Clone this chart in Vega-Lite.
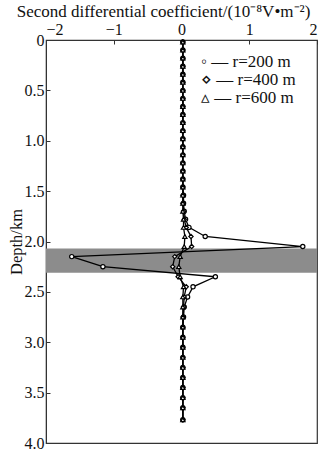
{
  "$schema": "https://vega.github.io/schema/vega-lite/v6.json",
  "width": 271,
  "height": 403,
  "autosize": "none",
  "padding": {"left": 46, "top": 40, "right": 11, "bottom": 8},
  "background": "white",
  "config": {
    "view": {"stroke": "#333", "strokeWidth": 1.2},
    "font": "Liberation Serif",
    "axis": {"labelFont": "Liberation Serif", "titleFont": "Liberation Serif", "labelColor": "#111", "titleColor": "#111", "domainColor": "#333", "tickColor": "#333", "grid": false, "titleFontWeight": "normal"},
    "legend": {"labelFont": "Liberation Serif"}
  },
  "datasets": {
    "band": [{"x0": -2, "x1": 2, "top": 2.07, "bottom": 2.31}],
    "profile": [
      {"d": 0.02, "r=200 m": 0.02, "r=400 m": 0.02, "r=600 m": 0.02},
      {"d": 0.10, "r=200 m": 0.02, "r=400 m": 0.02, "r=600 m": 0.02},
      {"d": 0.18, "r=200 m": 0.02, "r=400 m": 0.02, "r=600 m": 0.02},
      {"d": 0.26, "r=200 m": 0.02, "r=400 m": 0.02, "r=600 m": 0.02},
      {"d": 0.34, "r=200 m": 0.02, "r=400 m": 0.02, "r=600 m": 0.02},
      {"d": 0.42, "r=200 m": 0.02, "r=400 m": 0.02, "r=600 m": 0.02},
      {"d": 0.50, "r=200 m": 0.02, "r=400 m": 0.02, "r=600 m": 0.02},
      {"d": 0.58, "r=200 m": 0.02, "r=400 m": 0.02, "r=600 m": 0.02},
      {"d": 0.66, "r=200 m": 0.02, "r=400 m": 0.02, "r=600 m": 0.02},
      {"d": 0.74, "r=200 m": 0.02, "r=400 m": 0.02, "r=600 m": 0.02},
      {"d": 0.82, "r=200 m": 0.02, "r=400 m": 0.02, "r=600 m": 0.02},
      {"d": 0.90, "r=200 m": 0.02, "r=400 m": 0.02, "r=600 m": 0.02},
      {"d": 0.98, "r=200 m": 0.02, "r=400 m": 0.02, "r=600 m": 0.02},
      {"d": 1.06, "r=200 m": 0.02, "r=400 m": 0.02, "r=600 m": 0.02},
      {"d": 1.14, "r=200 m": 0.02, "r=400 m": 0.02, "r=600 m": 0.02},
      {"d": 1.22, "r=200 m": 0.02, "r=400 m": 0.02, "r=600 m": 0.02},
      {"d": 1.30, "r=200 m": 0.02, "r=400 m": 0.02, "r=600 m": 0.02},
      {"d": 1.38, "r=200 m": 0.02, "r=400 m": 0.02, "r=600 m": 0.02},
      {"d": 1.46, "r=200 m": 0.02, "r=400 m": 0.02, "r=600 m": 0.02},
      {"d": 1.54, "r=200 m": 0.03, "r=400 m": 0.02, "r=600 m": 0.02},
      {"d": 1.62, "r=200 m": 0.03, "r=400 m": 0.02, "r=600 m": 0.02},
      {"d": 1.70, "r=200 m": 0.04, "r=400 m": 0.03, "r=600 m": 0.02},
      {"d": 1.78, "r=200 m": 0.06, "r=400 m": 0.04, "r=600 m": 0.03},
      {"d": 1.86, "r=200 m": 0.11, "r=400 m": 0.07, "r=600 m": 0.03},
      {"d": 1.95, "r=200 m": 0.35, "r=400 m": 0.14, "r=600 m": 0.05},
      {"d": 2.05, "r=200 m": 1.79, "r=400 m": 0.15, "r=600 m": 0.04},
      {"d": 2.15, "r=200 m": -1.62, "r=400 m": -0.1, "r=600 m": -0.02},
      {"d": 2.25, "r=200 m": -1.16, "r=400 m": -0.13, "r=600 m": -0.04},
      {"d": 2.35, "r=200 m": 0.5, "r=400 m": -0.05, "r=600 m": -0.02},
      {"d": 2.45, "r=200 m": 0.17, "r=400 m": 0.07, "r=600 m": 0.03},
      {"d": 2.55, "r=200 m": 0.09, "r=400 m": 0.04, "r=600 m": 0.02},
      {"d": 2.65, "r=200 m": 0.04, "r=400 m": 0.03, "r=600 m": 0.02},
      {"d": 2.75, "r=200 m": 0.03, "r=400 m": 0.02, "r=600 m": 0.02},
      {"d": 2.85, "r=200 m": 0.02, "r=400 m": 0.02, "r=600 m": 0.02},
      {"d": 2.95, "r=200 m": 0.02, "r=400 m": 0.02, "r=600 m": 0.02},
      {"d": 3.05, "r=200 m": 0.02, "r=400 m": 0.02, "r=600 m": 0.02},
      {"d": 3.15, "r=200 m": 0.02, "r=400 m": 0.02, "r=600 m": 0.02},
      {"d": 3.25, "r=200 m": 0.02, "r=400 m": 0.02, "r=600 m": 0.02},
      {"d": 3.35, "r=200 m": 0.02, "r=400 m": 0.02, "r=600 m": 0.02},
      {"d": 3.45, "r=200 m": 0.02, "r=400 m": 0.02, "r=600 m": 0.02},
      {"d": 3.55, "r=200 m": 0.02, "r=400 m": 0.02, "r=600 m": 0.02},
      {"d": 3.65, "r=200 m": 0.02, "r=400 m": 0.02, "r=600 m": 0.02},
      {"d": 3.77, "r=200 m": 0.02, "r=400 m": 0.02, "r=600 m": 0.02}
    ]
  },
  "layer": [
    {
      "data": {"name": "band"},
      "mark": {"type": "rect", "color": "#8c8c8c"},
      "encoding": {
        "x": {"field": "x0", "type": "quantitative", "scale": {"domain": [-2, 2], "nice": false}},
        "x2": {"field": "x1"},
        "y": {"field": "top", "type": "quantitative", "scale": {"domain": [0, 4], "reverse": true, "nice": false}},
        "y2": {"field": "bottom"}
      }
    },
    {
      "data": {"name": "profile"},
      "transform": [{"fold": ["r=200 m", "r=400 m", "r=600 m"], "as": ["series", "v"]}],
      "layer": [
        {
          "mark": {"type": "line", "color": "black", "strokeWidth": 1.3, "orient": "vertical"},
          "encoding": {
            "x": {"field": "v", "type": "quantitative"},
            "y": {"field": "d", "type": "quantitative"},
            "order": {"field": "d", "type": "quantitative"},
            "detail": {"field": "series", "type": "nominal"}
          }
        },
        {
          "mark": {"type": "point", "filled": false, "color": "black", "fill": "white", "fillOpacity": 1, "strokeWidth": 1.2, "opacity": 1, "size": 18},
          "encoding": {
            "x": {
              "field": "v", "type": "quantitative",
              "scale": {"domain": [-2, 2], "nice": false},
              "axis": {
                "orient": "top", "values": [-2, -1, 0, 1, 2], "tickSize": -4, "labelPadding": 7,
                "labelFontSize": 16, "labelExpr": "datum.value < 0 ? '\u2212' + abs(datum.value) : '' + datum.value",
                "title": "Second differential coefficient/(10\u207b\u2078V\u2022m\u207b\u00b2)", "titleFontSize": 17, "titlePadding": 1,
                "titleX": 117, "titleAlign": "center"
              }
            },
            "y": {
              "field": "d", "type": "quantitative",
              "scale": {"domain": [0, 4], "reverse": true, "nice": false},
              "axis": {
                "values": [0, 0.5, 1, 1.5, 2, 2.5, 3, 3.5, 4], "tickSize": -4, "labelPadding": 6,
                "labelFontSize": 16, "labelExpr": "datum.value == 0 ? '0' : format(datum.value, '.1f')",
                "title": "Depth/km", "titleFontSize": 16.5, "titlePadding": 0
              }
            },
            "shape": {
              "field": "series", "type": "nominal",
              "scale": {"domain": ["r=200 m", "r=400 m", "r=600 m"], "range": ["circle", "diamond", "triangle-up"]},
              "legend": {
                "title": null, "orient": "none", "legendX": 138, "legendY": 13,
                "labelExpr": "(datum.label == 'r=200 m' ? '\u25e6' : datum.label == 'r=400 m' ? '\u22c4' : '\u25b5') + ' \u2014 ' + datum.label",
                "labelFontSize": 17, "labelColor": "#111",
                "symbolOpacity": 0, "symbolSize": 1,
                "rowPadding": 0, "padding": 0, "labelOffset": 0
              }
            }
          }
        }
      ]
    }
  ]
}
